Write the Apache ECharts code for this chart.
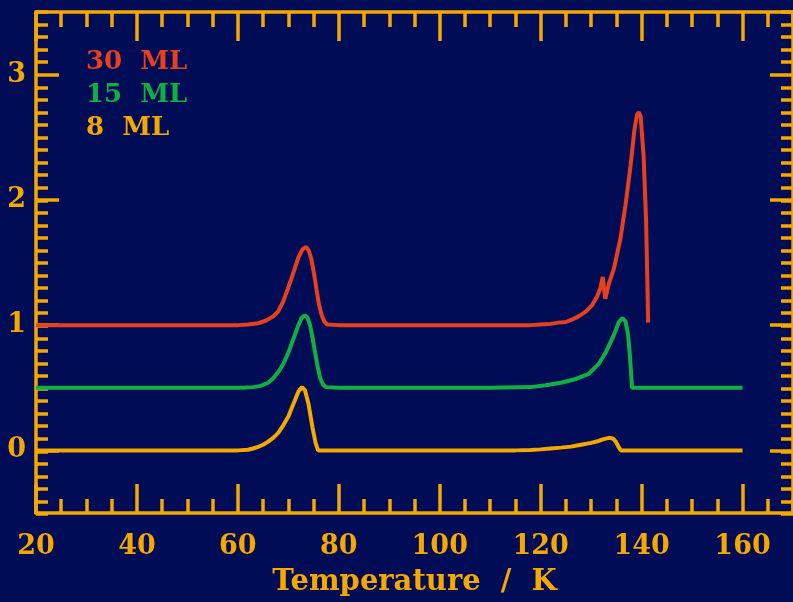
<!DOCTYPE html>
<html>
<head>
<meta charset="utf-8">
<script src="https://cdn.jsdelivr.net/npm/echarts@6/dist/echarts.min.js"></script>
<style>
  html, body { margin: 0; padding: 0; background: #000c55; }
  #chart { width: 793px; height: 602px; }
</style>
</head>
<body>
<div id="chart"></div>
<script>
// Thermal desorption traces, offset vertically by coverage.
const seriesNames = ['30 ML', '15 ML', '8 ML'];

const temp30 = [20, 60, 62, 64, 65.5, 67, 68, 69, 70, 71, 72, 72.8, 73.5, 74.1, 74.6, 75.1, 75.6, 76.1, 76.6, 77.1, 77.7, 80, 110, 118, 120, 122, 123.5, 125, 126.5, 127.5, 129, 130.2, 131.2, 131.8, 132.3, 132.8, 133.5, 134.5, 135.8, 136.8, 137.8, 138.6, 139.1, 139.4, 139.8, 140.4, 140.9, 141.3];
const signal30 = [1, 1, 1.005, 1.015, 1.035, 1.07, 1.11, 1.19, 1.3, 1.42, 1.54, 1.605, 1.625, 1.59, 1.52, 1.41, 1.28, 1.16, 1.08, 1.03, 1.005, 1, 1, 1, 1.005, 1.01, 1.02, 1.025, 1.05, 1.07, 1.11, 1.16, 1.23, 1.29, 1.385, 1.21, 1.33, 1.45, 1.69, 1.955, 2.27, 2.566, 2.68, 2.70, 2.67, 2.35, 1.82, 1.02];

const temp15 = [20, 61, 63, 64.5, 66, 67, 68, 69, 70, 71, 72, 72.6, 73.2, 73.8, 74.3, 74.8, 75.3, 75.8, 76.3, 76.8, 77.4, 80, 110, 118, 121, 124, 127, 129.5, 131.5, 133, 134.5, 135.5, 136.2, 136.8, 137.3, 137.7, 138.1, 140, 160];
const signal15 = [0.5, 0.5, 0.505, 0.515, 0.54, 0.575, 0.625, 0.69, 0.78, 0.89, 1.0, 1.055, 1.078, 1.06, 1.0, 0.9, 0.78, 0.67, 0.58, 0.53, 0.505, 0.5, 0.5, 0.505, 0.52, 0.54, 0.57, 0.61, 0.69, 0.79, 0.92, 1.025, 1.057, 1.03, 0.93, 0.75, 0.5, 0.5, 0.5];

const temp8 = [20, 60, 62, 63, 64, 65, 66, 67, 68, 69, 70, 71, 72, 72.7, 73.3, 74, 74.8, 75.4, 75.9, 80, 100, 115, 118, 120, 122, 124, 126, 128, 130, 131.5, 132.5, 133.5, 134.3, 134.9, 135.4, 135.9, 140, 160];
const signal8 = [0, 0, 0.005, 0.015, 0.028, 0.045, 0.07, 0.1, 0.14, 0.2, 0.27, 0.37, 0.47, 0.505, 0.48, 0.37, 0.18, 0.06, 0, 0, 0, 0, 0.003, 0.008, 0.015, 0.022, 0.03, 0.045, 0.06, 0.075, 0.09, 0.1, 0.095, 0.07, 0.03, 0, 0, 0];

const xTickLabels = [20, 40, 60, 80, 100, 120, 140, 160];
const yTickLabels = [0, 1, 2, 3];

const ORANGE = '#f5a800';
const RED = '#e8401c';
const GREEN = '#10b040';
const FONT = 'DejaVu Serif';

function pairs(xs, ys) { return xs.map((x, i) => [x, ys[i]]); }

const tickStyle = { color: ORANGE, width: 3.5 };
const axisLineStyle = { color: ORANGE, width: 3.5 };
const labelFont = { color: ORANGE, fontFamily: FONT, fontWeight: 'bold', fontSize: 27 };

function majorX(position, withLabels) {
  return {
    type: 'value', gridIndex: 0, position: position, min: 20, max: 170,
    axisLine: { show: true, onZero: false, lineStyle: axisLineStyle },
    axisTick: { show: true, inside: true, length: 29, lineStyle: tickStyle, customValues: xTickLabels },
    axisLabel: withLabels
      ? Object.assign({ show: true, margin: 20, customValues: xTickLabels }, labelFont)
      : { show: false },
    splitLine: { show: false },
    name: withLabels ? 'Temperature  /  K' : '',
    nameLocation: 'middle', nameGap: 55,
    nameTextStyle: Object.assign({}, labelFont, { fontSize: 29 })
  };
}
function minorX(position) {
  return {
    type: 'value', gridIndex: 1, position: position, min: 20, max: 170, interval: 5,
    axisLine: { show: false, onZero: false },
    axisTick: { show: true, inside: true, length: 15, lineStyle: tickStyle },
    axisLabel: { show: false }, splitLine: { show: false }
  };
}
function majorY(position, withLabels) {
  return {
    type: 'value', gridIndex: 0, position: position, min: -0.5, max: 3.5,
    axisLine: { show: true, onZero: false, lineStyle: axisLineStyle },
    axisTick: { show: true, inside: true, length: 23, lineStyle: tickStyle, customValues: yTickLabels },
    axisLabel: withLabels
      ? Object.assign({ show: true, margin: 10, customValues: yTickLabels }, labelFont)
      : { show: false },
    splitLine: { show: false }
  };
}
function minorY(position) {
  return {
    type: 'value', gridIndex: 1, position: position, min: -0.5, max: 3.5, interval: 0.1,
    axisLine: { show: false, onZero: false },
    axisTick: { show: true, inside: true, length: 12, lineStyle: tickStyle },
    axisLabel: { show: false }, splitLine: { show: false }
  };
}

const gridBox = { left: 36, right: -2, top: 12, bottom: 88 };

function lineSeries(name, color, xs, ys) {
  return {
    name: name, type: 'line', xAxisIndex: 0, yAxisIndex: 0,
    data: pairs(xs, ys), showSymbol: false, symbol: 'none',
    lineStyle: { color: color, width: 4 }, itemStyle: { color: color },
    z: 3, animation: false
  };
}

const chart = echarts.init(document.getElementById('chart'), null, { renderer: 'canvas' });
chart.setOption({
  backgroundColor: '#000c55',
  animation: false,
  grid: [Object.assign({}, gridBox), Object.assign({}, gridBox)],
  xAxis: [majorX('bottom', true), majorX('top', false), minorX('bottom'), minorX('top')],
  yAxis: [majorY('left', true), majorY('right', false), minorY('left'), minorY('right')],
  legend: {
    orient: 'vertical', left: 76, top: 44, icon: 'none', itemWidth: 0, itemHeight: 26, itemGap: 7,
    selectedMode: false,
    formatter: name => name.replace(' ', '  '),
    textStyle: { fontFamily: FONT, fontWeight: 'bold', fontSize: 26 },
    data: [
      { name: seriesNames[0], textStyle: { color: RED } },
      { name: seriesNames[1], textStyle: { color: GREEN } },
      { name: seriesNames[2], textStyle: { color: ORANGE } }
    ]
  },
  series: [
    lineSeries(seriesNames[2], ORANGE, temp8, signal8),
    lineSeries(seriesNames[1], GREEN, temp15, signal15),
    lineSeries(seriesNames[0], RED, temp30, signal30)
  ]
});
</script>
</body>
</html>
